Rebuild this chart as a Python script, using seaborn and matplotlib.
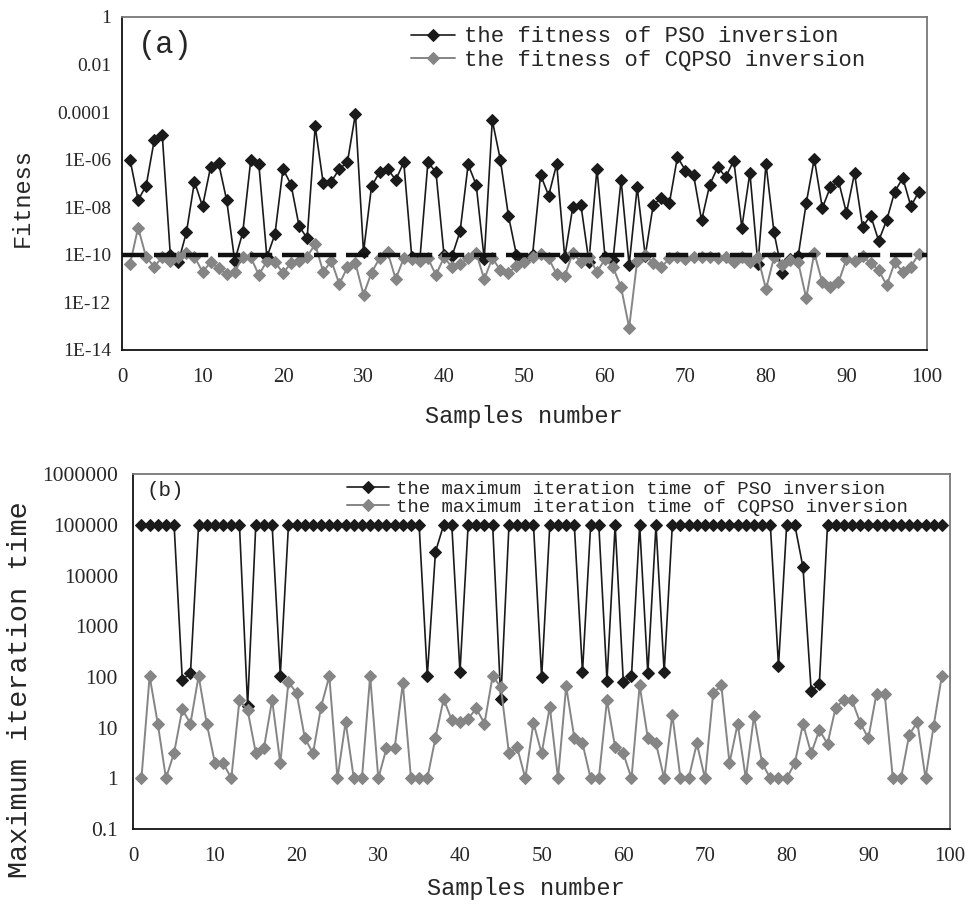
import matplotlib
matplotlib.use('Agg')
import matplotlib.pyplot as plt
import matplotlib.ticker as mticker
import pandas as pd
import numpy as np
import seaborn as sns

# sample index 1..99
samples = list(range(1, 100))

# (a) fitness values
pso_fitness = [
    1.0e-6, 2.0e-8, 8.1e-8, 6.5e-6, 1.1e-5, 1.0e-10, 5.0e-11, 8.7e-10, 1.2e-7, 1.1e-8,
    4.8e-7, 7.1e-7, 2.0e-8, 5.6e-11, 8.7e-10, 1.0e-6, 6.3e-7, 7.9e-11, 7.4e-10, 4.1e-7,
    8.9e-8, 1.6e-9, 5.0e-10, 2.5e-5, 1.0e-7, 1.2e-7, 4.1e-7, 7.8e-7, 8.5e-5, 1.3e-10,
    7.6e-8, 3.0e-7, 4.1e-7, 1.4e-7, 7.8e-7, 7.9e-11, 6.3e-11, 7.8e-7, 3.0e-7, 1.0e-10,
    8.9e-11, 9.8e-10, 6.3e-7, 8.7e-8, 6.6e-11, 4.5e-5, 1.0e-6, 4.5e-9, 1.0e-10, 6.3e-11,
    1.0e-10, 2.3e-7, 3.1e-8, 6.6e-7, 7.9e-11, 1.0e-8, 1.3e-8, 5.2e-11, 4.1e-7, 8.5e-11,
    6.3e-11, 1.4e-7, 3.7e-11, 6.9e-8, 9.1e-11, 1.3e-8, 2.4e-8, 1.5e-8, 1.3e-6, 3.5e-7,
    2.3e-7, 2.8e-9, 8.7e-8, 4.8e-7, 1.9e-7, 9.1e-7, 1.4e-9, 2.8e-7, 4.1e-11, 6.6e-7,
    8.7e-10, 1.8e-11, 6.6e-11, 9.1e-11, 1.5e-8, 1.1e-6, 9.3e-9, 6.9e-8, 1.3e-7, 5.8e-9,
    2.7e-7, 1.5e-9, 4.5e-9, 3.9e-10, 2.9e-9, 4.6e-8, 1.7e-7, 1.1e-8, 4.6e-8,
]
cqpso_fitness = [
    4.1e-11, 1.4e-9, 7.9e-11, 3.2e-11, 7.9e-11, 5.6e-11, 7.9e-11, 1.2e-10, 8.5e-11, 1.9e-11,
    4.8e-11, 2.8e-11, 1.5e-11, 1.9e-11, 8.5e-11, 7.9e-11, 1.4e-11, 5.6e-11, 5.0e-11, 1.7e-11,
    4.5e-11, 5.6e-11, 8.5e-11, 2.8e-10, 1.9e-11, 5.6e-11, 5.9e-12, 3.0e-11, 4.4e-11, 2.1e-12,
    1.8e-11, 7.2e-11, 1.3e-10, 9.5e-12, 7.2e-11, 6.6e-11, 5.6e-11, 7.2e-11, 1.4e-11, 7.9e-11,
    3.0e-11, 4.1e-11, 7.2e-11, 1.2e-10, 9.5e-12, 7.2e-11, 2.3e-11, 1.7e-11, 3.5e-11, 4.8e-11,
    7.9e-11, 1.1e-10, 7.2e-11, 1.5e-11, 1.3e-11, 1.2e-10, 5.0e-11, 7.9e-11, 1.9e-11, 6.6e-11,
    3.0e-11, 4.3e-12, 8.7e-14, 5.6e-11, 9.8e-11, 4.5e-11, 3.0e-11, 7.1e-11, 8.5e-11, 6.6e-11,
    8.5e-11, 8.5e-11, 8.5e-11, 7.2e-11, 8.5e-11, 4.8e-11, 8.5e-11, 4.8e-11, 7.9e-11, 3.6e-12,
    7.9e-11, 3.8e-11, 6.0e-11, 4.8e-11, 1.5e-12, 1.2e-10, 6.9e-12, 4.3e-12, 6.9e-12, 6.6e-11,
    5.6e-11, 9.1e-11, 4.4e-11, 2.3e-11, 5.2e-12, 4.8e-11, 1.9e-11, 3.2e-11, 1.1e-10,
]
threshold = 1e-10

# (b) maximum iteration counts
pso_iter = [
    100000, 100000, 100000, 100000, 100000, 89, 118, 100000, 100000, 100000,
    100000, 100000, 100000, 27, 100000, 100000, 100000, 107, 100000, 100000,
    100000, 100000, 100000, 100000, 100000, 100000, 100000, 100000, 100000, 100000,
    100000, 100000, 100000, 100000, 100000, 105, 29500, 100000, 100000, 124,
    100000, 100000, 100000, 100000, 36, 100000, 100000, 100000, 100000, 98,
    100000, 100000, 100000, 100000, 124, 100000, 100000, 85, 100000, 81,
    105, 100000, 118, 100000, 124, 100000, 100000, 100000, 100000, 100000,
    100000, 100000, 100000, 100000, 100000, 100000, 100000, 100000, 166, 100000,
    100000, 14600, 53, 72, 100000, 100000, 100000, 100000, 100000, 100000,
    100000, 100000, 100000, 100000, 100000, 100000, 100000, 100000, 100000,
]
cqpso_iter = [
    1, 104, 12, 1, 3.2, 23, 12, 105, 12, 2,
    2, 1, 35, 22, 3.2, 4, 35, 2, 80, 48,
    6.3, 3.1, 26, 104, 1, 13, 1, 1, 105, 1,
    3.9, 3.9, 75, 1, 1, 1, 6.3, 37, 14, 13,
    15, 24, 12, 105, 63, 3.1, 4.1, 1, 12.5, 3.1,
    26, 1, 65, 6.3, 4.9, 1, 1, 35, 4.1, 3.1,
    1, 68, 6.3, 4.9, 1, 18, 1, 1, 4.9, 1,
    48, 68, 2, 12, 1, 17, 2, 1, 1, 1,
    2, 12, 3.1, 9, 4.8, 25, 35, 35, 12.5, 6.2,
    47, 47, 1, 1, 7.2, 13, 1, 11, 105,
]

top_ticks = [1, 1e-2, 1e-4, 1e-6, 1e-8, 1e-10, 1e-12, 1e-14]
top_labels = ['1', '0.01', '0.0001', '1E-06', '1E-08', '1E-10', '1E-12', '1E-14']
bot_ticks = [0.1, 1, 10, 100, 1000, 10000, 100000, 1000000]
bot_labels = ['0.1', '1', '10', '100', '1000', '10000', '100000', '1000000']
x_ticks = list(range(0, 101, 10))

df_fit = pd.DataFrame({'sample': samples, 'pso': pso_fitness, 'cqpso': cqpso_fitness})
df_iter = pd.DataFrame({'sample': samples, 'pso': pso_iter, 'cqpso': cqpso_iter})

sns.set_style('white')
MONO = 'Liberation Mono'
SERIF = 'Liberation Serif'
plt.rcParams['font.family'] = [SERIF, 'DejaVu Sans']

BLACK = '#1a1a1a'
GRAY = '#858585'

fig = plt.figure(figsize=(9.8, 9.09), dpi=100)
ax1 = fig.add_axes([0.1245, 0.615, 0.8214, 0.3663])
ax2 = fig.add_axes([0.136, 0.088, 0.8334, 0.3902])

# ---- panel (a)
sns.lineplot(data=df_fit, x='sample', y='pso', ax=ax1, color=BLACK, marker='D',
             markersize=6, markeredgecolor=BLACK, linewidth=1.2,
             label='the fitness of PSO inversion')
sns.lineplot(data=df_fit, x='sample', y='cqpso', ax=ax1, color=GRAY, marker='D',
             markersize=6, markeredgecolor=GRAY, linewidth=1.4,
             label='the fitness of CQPSO inversion')
ax1.axhline(threshold, color='#111111', lw=3.2, dashes=(5, 2.2), zorder=3)
ax1.set_yscale('log')
ax1.set_ylim(1e-14, 1)
ax1.set_yticks(top_ticks)
ax1.set_yticklabels(top_labels)
ax1.yaxis.set_minor_locator(mticker.NullLocator())
ax1.set_xlim(0, 100)
ax1.set_xticks(x_ticks)
ax1.tick_params(axis='y', direction='in', length=5, width=1, pad=8, labelsize=14)
ax1.tick_params(axis='x', direction='in', length=5, width=1, pad=13, labelsize=15)
ax1.set_xlabel('')
ax1.set_ylabel('')
ax1.text(0.02, 0.915, '(a)', transform=ax1.transAxes, family=MONO, fontsize=22,
         va='center', ha='left')
ax1.legend(loc='upper left', bbox_to_anchor=(0.345, 1.005), frameon=False,
           prop={'family': MONO, 'size': 16}, handlelength=2.0, handletextpad=0.4,
           labelspacing=0.12, borderaxespad=0.1)

# ---- panel (b)
sns.lineplot(data=df_iter, x='sample', y='pso', ax=ax2, color=BLACK, marker='D',
             markersize=6, markeredgecolor=BLACK, linewidth=1.2,
             label='the maximum iteration time of PSO inversion')
sns.lineplot(data=df_iter, x='sample', y='cqpso', ax=ax2, color=GRAY, marker='D',
             markersize=6, markeredgecolor=GRAY, linewidth=1.4,
             label='the maximum iteration time of CQPSO inversion')
ax2.set_yscale('log')
ax2.set_ylim(0.1, 1000000)
ax2.set_yticks(bot_ticks)
ax2.set_yticklabels(bot_labels)
ax2.yaxis.set_minor_locator(mticker.NullLocator())
ax2.set_xlim(0, 100)
ax2.set_xticks(x_ticks)
ax2.tick_params(axis='y', direction='in', length=5, width=1, pad=11, labelsize=15.5)
ax2.tick_params(axis='x', direction='in', length=5, width=1, pad=13, labelsize=15)
ax2.set_xlabel('')
ax2.set_ylabel('')
ax2.text(0.016, 0.955, '(b)', transform=ax2.transAxes, family=MONO, fontsize=15,
         va='center', ha='left')
ax2.legend(loc='upper left', bbox_to_anchor=(0.25, 1.01), frameon=False,
           prop={'family': MONO, 'size': 13.7}, handlelength=2.2, handletextpad=0.4,
           labelspacing=0.05, borderaxespad=0.1)

for ax in (ax1, ax2):
    for side in ('left', 'bottom'):
        ax.spines[side].set_color('#111111')
        ax.spines[side].set_linewidth(1.3)
    for side in ('top', 'right'):
        ax.spines[side].set_color('#777777')
        ax.spines[side].set_linewidth(1.3)
        ax.spines[side].set_visible(True)

fig.text(0.535, 1 - 416 / 909, 'Samples number', family=MONO, fontsize=17,
         ha='center', va='center')
fig.text(0.537, 1 - 888 / 909, 'Samples number', family=MONO, fontsize=17,
         ha='center', va='center')
fig.text(22 / 980, 1 - 198 / 909, 'Fitness', family=MONO, fontsize=17,
         rotation=90, ha='center', va='center')
fig.text(20 / 980, 1 - 690 / 909, 'Maximum iteration time', family=MONO, fontsize=20.5,
         rotation=90, ha='center', va='center')

fig.savefig('out.png', dpi=100, facecolor='white')
